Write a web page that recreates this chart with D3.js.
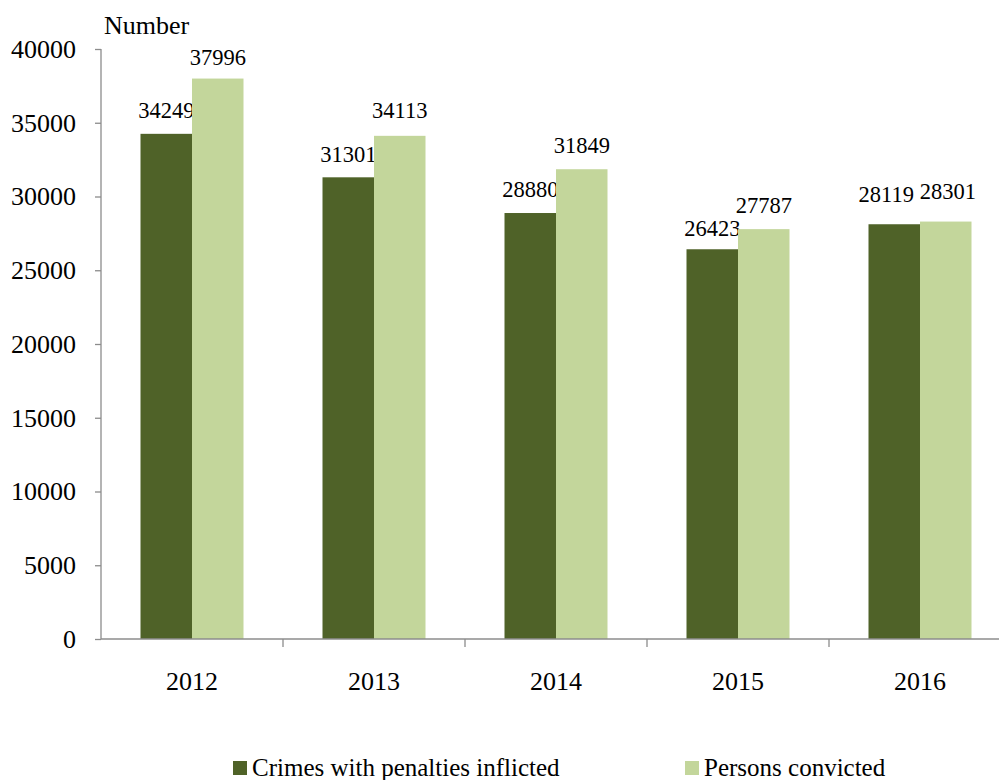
<!DOCTYPE html>
<html>
<head>
<meta charset="utf-8">
<script src="https://cdn.jsdelivr.net/npm/d3@7.9.0/dist/d3.min.js"></script>
<style>
  html, body { margin: 0; padding: 0; background: #fff; }
  svg { display: block; }
</style>
</head>
<body>
<div id="chart"></div>
<script>
// ── Data ──────────────────────────────────────────────────────────────
var years     = ["2012", "2013", "2014", "2015", "2016"];
var crimes    = [34249, 31301, 28880, 26423, 28119];
var convicted = [37996, 34113, 31849, 27787, 28301];
var yTicks    = [0, 5000, 10000, 15000, 20000, 25000, 30000, 35000, 40000];
var seriesNames = ["Crimes with penalties inflicted", "Persons convicted"];

// label nudges (px above bar top, horizontal shift) as placed in the original
var labelLift  = [[16, 15, 16, 13, 22], [14, 18, 16, 16, 23]];
var labelShift = [[0, 0, 0, 0, -8], [0, 0, 0, 0, 2]];

var W = 999, H = 780;
var X0 = 101, BAND = 182;         // plot left edge, category width
var Y0 = 639, Y1 = 49;            // y of 0 and of 40000
var FONT = "Liberation Serif, Times New Roman, serif";

var COLORS = ["#4f6228", "#c3d69b"];
var AXIS = "#8c8c8c";

var svg = d3.select("#chart").append("svg")
  .attr("width", W).attr("height", H)
  .attr("font-family", FONT);

var x = d3.scaleBand()
  .domain(years)
  .range([X0, X0 + BAND * years.length])
  .paddingInner(0).paddingOuter(0);

var y = d3.scaleLinear().domain([0, 40000]).range([Y0, Y1]);

var BW = 51.5; // bar width
var series = [crimes, convicted];

// ── Bars ──────────────────────────────────────────────────────────────
series.forEach(function (vals, si) {
  var g = svg.append("g");
  g.selectAll("rect").data(years).enter().append("rect")
    .attr("x", function (d) { return x(d) + x.bandwidth() / 2 - BW + si * BW; })
    .attr("y", function (d, i) { return y(vals[i]); })
    .attr("width", BW)
    .attr("height", function (d, i) { return Y0 - y(vals[i]); })
    .attr("fill", COLORS[si]);

  g.selectAll("text").data(years).enter().append("text")
    .attr("x", function (d, i) {
      return x(d) + x.bandwidth() / 2 - BW / 2 + si * BW + labelShift[si][i];
    })
    .attr("y", function (d, i) { return y(vals[i]) - labelLift[si][i]; })
    .attr("text-anchor", "middle")
    .attr("font-family", FONT)
    .attr("font-size", "22.5px")
    .attr("fill", "#000")
    .text(function (d, i) { return vals[i]; });
});

// ── Axes ──────────────────────────────────────────────────────────────
var yAxis = svg.append("g")
  .attr("transform", "translate(" + X0 + ",0)")
  .call(d3.axisLeft(y).tickValues(yTicks).tickSize(6).tickPadding(19)
    .tickFormat(d3.format("d")));
yAxis.select(".domain").attr("stroke", AXIS).attr("stroke-width", 1.3)
  .attr("d", "M0," + Y1 + "V" + Y0);
yAxis.selectAll(".tick line").attr("stroke", AXIS).attr("stroke-width", 1.3);
yAxis.selectAll(".tick text").attr("font-size", "26px")
  .attr("font-family", FONT).attr("fill", "#000");

var xAxis = svg.append("g")
  .attr("transform", "translate(0," + Y0 + ")")
  .call(d3.axisBottom(x).tickSize(0).tickPadding(33));
xAxis.select(".domain").attr("stroke", AXIS).attr("stroke-width", 1.3)
  .attr("d", "M" + X0 + ",0H" + (X0 + BAND * years.length));
xAxis.selectAll(".tick text").attr("font-size", "26px")
  .attr("font-family", FONT).attr("fill", "#000");

// category separator ticks
svg.append("g").selectAll("line").data(years).enter().append("line")
  .attr("x1", function (d) { return x(d) + BAND; })
  .attr("x2", function (d) { return x(d) + BAND; })
  .attr("y1", Y0).attr("y2", Y0 + 8)
  .attr("stroke", AXIS).attr("stroke-width", 1.3);

// axis title
svg.append("text")
  .attr("x", 104).attr("y", 34)
  .attr("font-family", FONT)
  .attr("font-size", "26px")
  .attr("fill", "#000")
  .text("Number");

// ── Legend ────────────────────────────────────────────────────────────
var legX = [233, 685];
var leg = svg.append("g").selectAll("g").data(seriesNames).enter().append("g")
  .attr("transform", function (d, i) { return "translate(" + legX[i] + ",761)"; });
leg.append("rect").attr("width", 14).attr("height", 14)
  .attr("fill", function (d, i) { return COLORS[i]; });
leg.append("text").attr("x", 19).attr("y", 15)
  .attr("font-family", FONT)
  .attr("font-size", "25px")
  .attr("fill", "#000")
  .text(function (d) { return d; });
</script>
</body>
</html>
